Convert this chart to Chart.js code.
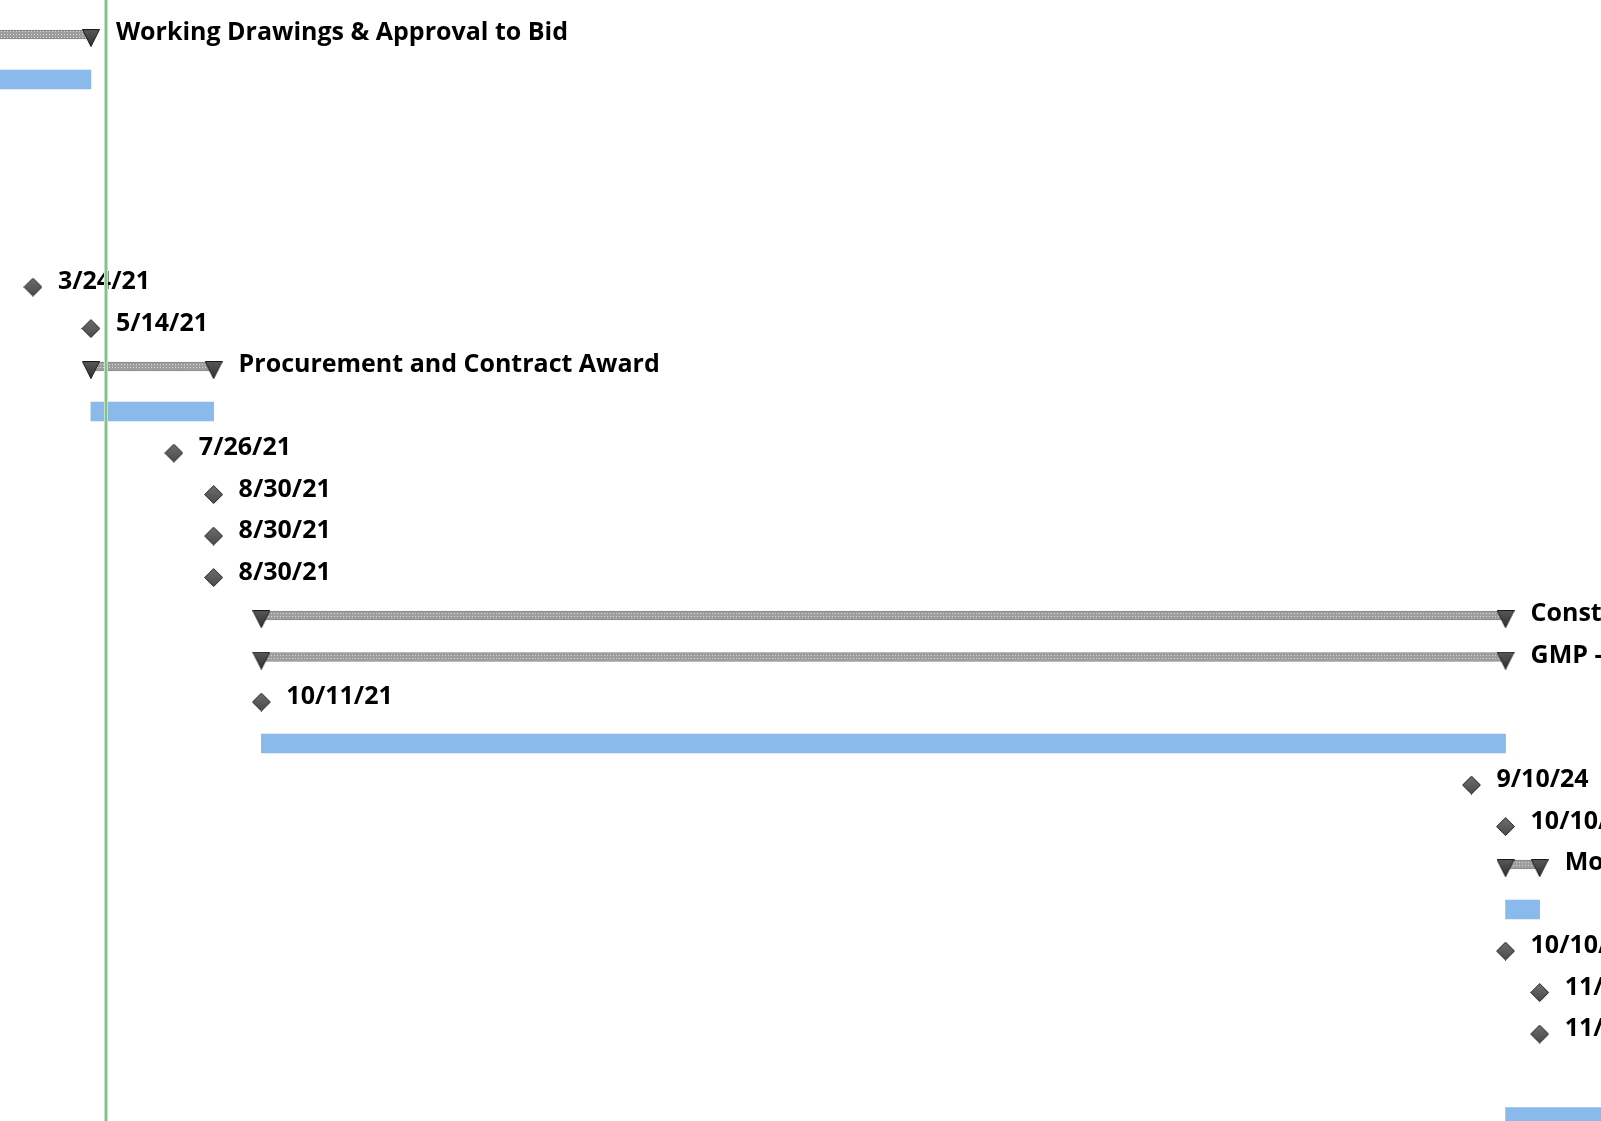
<!DOCTYPE html>
<html><head><meta charset="utf-8">
<script src="https://cdn.jsdelivr.net/npm/chart.js@4/dist/chart.umd.min.js"></script>
<style>html,body{margin:0;padding:0;background:#fff;overflow:hidden}canvas{display:block}</style>
</head><body>
<canvas id="c" width="1601" height="1121"></canvas>
<script>
// ---- data ----
const viewStart = '2021-02-23';
const viewEnd = '2025-01-02';
const statusDate = '2021-05-27';

const summaryRows = [0, 8, 14, 15, 20];
const summaryStarts = ['2021-01-04', '2021-05-14', '2021-10-11', '2021-10-11', '2024-10-10'];
const summaryEnds = ['2021-05-14', '2021-08-30', '2024-10-10', '2024-10-10', '2024-11-09'];
const summaryNames = ['Working Drawings & Approval to Bid', 'Procurement and Contract Award', 'Construction', 'GMP - Construction', 'Move-In'];

const milestoneRows = [6, 7, 10, 11, 12, 13, 16, 18, 19, 22, 23, 24];
const milestoneDates = ['2021-03-24', '2021-05-14', '2021-07-26', '2021-08-30', '2021-08-30', '2021-08-30', '2021-10-11', '2024-09-10', '2024-10-10', '2024-10-10', '2024-11-09', '2024-11-09'];
const milestoneLabels = ['3/24/21', '5/14/21', '7/26/21', '8/30/21', '8/30/21', '8/30/21', '10/11/21', '9/10/24', '10/10/24', '10/10/24', '11/9/24', '11/9/24'];

const baselineRows = [1, 9, 17, 21, 26];
const baselineStarts = ['2021-01-04', '2021-05-14', '2021-10-11', '2024-10-10', '2024-10-10'];
const baselineEnds = ['2021-05-14', '2021-08-30', '2024-10-10', '2024-11-09', '2025-03-31'];

// ---- helpers ----
function dayOf(s) {
  const [y, m, d] = s.split('-').map(Number);
  return (Date.UTC(y, m - 1, d) - Date.UTC(2021, 2, 24)) / 864e5;
}

function makeTriangle() {
  const c = document.createElement('canvas'); c.width = 18; c.height = 18;
  const g = c.getContext('2d');
  const gr = g.createLinearGradient(0, 0, 0, 18);
  gr.addColorStop(0, '#5a5a5a'); gr.addColorStop(1, '#2e2e2e');
  g.beginPath(); g.moveTo(0.5, 0.5); g.lineTo(17.5, 0.5); g.lineTo(9, 17.5); g.closePath();
  g.fillStyle = gr; g.fill(); g.strokeStyle = '#1c1c1c'; g.lineWidth = 1; g.stroke();
  return c;
}
function makeDiamond() {
  const c = document.createElement('canvas'); c.width = 19; c.height = 19;
  const g = c.getContext('2d');
  const gr = g.createLinearGradient(0, 0, 0, 19);
  gr.addColorStop(0, '#6e6e6e'); gr.addColorStop(1, '#4a4a4a');
  g.beginPath(); g.moveTo(9.5, 0.5); g.lineTo(18.5, 9.5); g.lineTo(9.5, 18.5); g.lineTo(0.5, 9.5); g.closePath();
  g.fillStyle = gr; g.fill(); g.strokeStyle = '#2a2a2a'; g.lineWidth = 1; g.stroke();
  return c;
}
function makePattern() {
  const c = document.createElement('canvas'); c.width = 3; c.height = 3;
  const g = c.getContext('2d');
  g.fillStyle = '#9e9e9e'; g.fillRect(0, 0, 3, 3);
  g.fillStyle = '#d8d8d8'; g.fillRect(1, 1, 1, 1);
  return g.createPattern(c, 'repeat');
}

const FONT = 'bold 25px "Open Sans"';

const labelPlugin = {
  id: 'ganttLabels',
  afterDatasetsDraw(chart) {
    const ctx = chart.ctx, xs = chart.scales.x, ys = chart.scales.y;
    ctx.save();
    ctx.font = FONT; ctx.fillStyle = '#000'; ctx.textAlign = 'left'; ctx.textBaseline = 'alphabetic';
    summaryRows.forEach((r, i) => {
      ctx.fillText(summaryNames[i], xs.getPixelForValue(dayOf(summaryEnds[i])) + 25, ys.getPixelForValue(r) + 2);
    });
    milestoneRows.forEach((r, i) => {
      ctx.fillText(milestoneLabels[i], xs.getPixelForValue(dayOf(milestoneDates[i])) + 25, ys.getPixelForValue(r) + 2);
    });
    ctx.restore();
  },
  afterDraw(chart) {
    const ctx = chart.ctx, xs = chart.scales.x;
    const px = Math.round(xs.getPixelForValue(dayOf(statusDate)));
    ctx.save();
    ctx.fillStyle = '#c4e3c4'; ctx.fillRect(px - 2, 0, 4, chart.height);
    ctx.fillStyle = '#86c286'; ctx.fillRect(px - 1, 0, 2, chart.height);
    ctx.restore();
  }
};

function build() {
  const tri = makeTriangle(), dia = makeDiamond(), pat = makePattern();
  const triData = [];
  summaryRows.forEach((r, i) => {
    triData.push({ x: dayOf(summaryStarts[i]), y: r });
    triData.push({ x: dayOf(summaryEnds[i]), y: r });
  });
  new Chart(document.getElementById('c'), {
    type: 'bar',
    data: {
      datasets: [
        {
          type: 'bar', indexAxis: 'y', xAxisID: 'x', yAxisID: 'y',
          data: baselineRows.map((r, i) => ({ x: [dayOf(baselineStarts[i]), dayOf(baselineEnds[i])], y: r })),
          backgroundColor: '#8ab9eb', borderWidth: 0, barThickness: 19, grouped: false, order: 4
        },
        {
          type: 'bar', indexAxis: 'y', xAxisID: 'x', yAxisID: 'ySum',
          data: summaryRows.map((r, i) => ({ x: [dayOf(summaryStarts[i]), dayOf(summaryEnds[i])], y: r })),
          backgroundColor: pat, borderColor: '#858585', borderWidth: { top: 1, bottom: 1, left: 0, right: 0 },
          borderSkipped: false, barThickness: 9, grouped: false, order: 3
        },
        {
          type: 'scatter', xAxisID: 'x', yAxisID: 'y', data: triData,
          pointStyle: tri, pointRadius: 9, showLine: false, order: 2
        },
        {
          type: 'scatter', xAxisID: 'x', yAxisID: 'y',
          data: milestoneRows.map((r, i) => ({ x: dayOf(milestoneDates[i]), y: r })),
          pointStyle: dia, pointRadius: 9, showLine: false, order: 1
        }
      ]
    },
    options: {
      responsive: false, animation: false, devicePixelRatio: 1,
      layout: { padding: 0, autoPadding: false },
      plugins: { legend: { display: false }, tooltip: { enabled: false } },
      scales: {
        x: { type: 'linear', display: false, offset: false, min: dayOf(viewStart), max: dayOf(viewEnd) },
        y: { type: 'linear', display: false, offset: false, reverse: true, min: -0.916, max: 26.096 },
        ySum: { type: 'linear', display: false, offset: false, reverse: true, min: -0.832, max: 26.18 }
      }
    },
    plugins: [labelPlugin]
  });
}
if (document.fonts && document.fonts.load) {
  document.fonts.load(FONT).then(build, build);
} else build();
</script>
</body></html>
